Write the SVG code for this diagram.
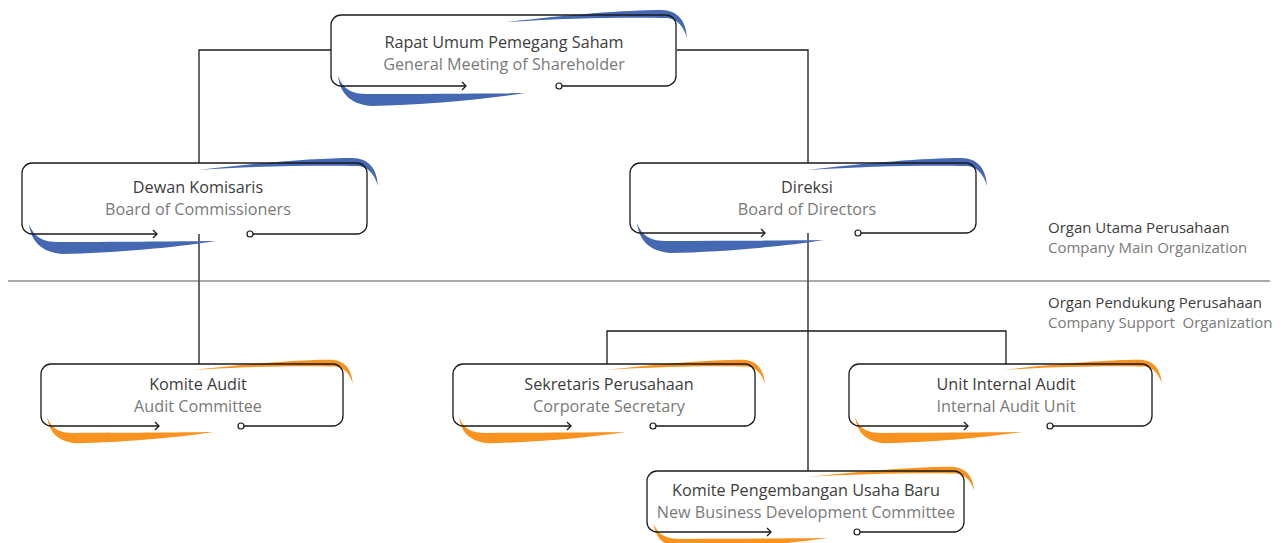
<svg xmlns="http://www.w3.org/2000/svg" xmlns:xlink="http://www.w3.org/1999/xlink" width="1284" height="543" viewBox="0 0 1284 543">
<style>
.bg{fill:#fff}
.blue{fill:#4468B2}
.orange{fill:#F7931E}
.box{fill:none;stroke:#1a1a1a;stroke-width:1.3}
.dot{fill:#fff;stroke:#1a1a1a;stroke-width:1.2}
.conn{fill:none;stroke:#1a1a1a;stroke-width:1.3}
.div{fill:none;stroke:#555;stroke-width:1}
.t1{font-family:"Open Sans","Noto Sans","Liberation Sans",sans-serif;font-size:16.2px;fill:#3d3d3d;text-anchor:middle}
.t2{font-family:"Open Sans","Noto Sans","Liberation Sans",sans-serif;font-size:16.2px;fill:#7a7a7a;text-anchor:middle}
.l1{font-family:"Open Sans","Noto Sans","Liberation Sans",sans-serif;font-size:15px;fill:#3d3d3d}
.l2{font-family:"Open Sans","Noto Sans","Liberation Sans",sans-serif;font-size:15px;fill:#7a7a7a}
</style>
<defs>
<path id="swT" d="M-169,7 C-110,0 -50,-5 -15,-5 C2,-5 10,6 11,23 C8,13 3,5 -8,3 C-50,2 -110,3 -169,7 Z"/>
<path id="swB" d="M7,-10 C9,6 18,18 40,20 C90,19 150,14 194,7 C150,7.5 90,8 36,8 C22,8 12,4 7,-10 Z"/>
</defs>
<rect class="bg" x="0" y="0" width="1284" height="543"/>

<g id="connectors">
<path class="conn" d="M331,50 H199 V163"/>
<path class="conn" d="M677,50 H808 V163"/>
<path class="conn" d="M199,234 V364"/>
<path class="conn" d="M808,233 V471"/>
<path class="conn" d="M607,364 V331 H1006 V364"/>
<path class="div" d="M8,281 H1270"/>
</g>

<g id="node-rups">
<use xlink:href="#swT" class="blue" transform="translate(676,15)"/>
<use xlink:href="#swB" class="blue" transform="translate(331,86)"/>
<path class="box" d="M466,86 H341 A10,10 0 0 1 331,76 V25 A10,10 0 0 1 341,15 H666 A10,10 0 0 1 676,25 V76 A10,10 0 0 1 666,86 H562"/>
<path class="conn" d="M462,82 L466,86 L462,90"/>
<circle class="dot" cx="559" cy="86" r="3"/>
<text class="t1" x="504" y="48">Rapat Umum Pemegang Saham</text>
<text class="t2" x="504" y="70">General Meeting of Shareholder</text>
</g>

<g id="node-dekom">
<use xlink:href="#swT" class="blue" transform="translate(367,163)"/>
<use xlink:href="#swB" class="blue" transform="translate(22,234)"/>
<path class="box" d="M157,234 H32 A10,10 0 0 1 22,224 V173 A10,10 0 0 1 32,163 H357 A10,10 0 0 1 367,173 V224 A10,10 0 0 1 357,234 H253"/>
<path class="conn" d="M153,230 L157,234 L153,238"/>
<circle class="dot" cx="250" cy="234" r="3"/>
<text class="t1" x="198" y="193">Dewan Komisaris</text>
<text class="t2" x="198" y="215">Board of Commissioners</text>
</g>

<g id="node-direksi">
<use xlink:href="#swT" class="blue" transform="translate(976,163)"/>
<use xlink:href="#swB" class="blue" transform="translate(630,233)"/>
<path class="box" d="M765,233 H640 A10,10 0 0 1 630,223 V173 A10,10 0 0 1 640,163 H966 A10,10 0 0 1 976,173 V223 A10,10 0 0 1 966,233 H861"/>
<path class="conn" d="M761,229 L765,233 L761,237"/>
<circle class="dot" cx="858" cy="233" r="3"/>
<text class="t1" x="807" y="193">Direksi</text>
<text class="t2" x="807" y="215">Board of Directors</text>
</g>

<g id="node-komite-audit">
<use xlink:href="#swT" class="orange" transform="translate(343,364) scale(0.89,0.86)"/>
<use xlink:href="#swB" class="orange" transform="translate(41,426) scale(0.89,0.86)"/>
<path class="box" d="M159,426 H51 A10,10 0 0 1 41,416 V374 A10,10 0 0 1 51,364 H333 A10,10 0 0 1 343,374 V416 A10,10 0 0 1 333,426 H244"/>
<path class="conn" d="M155,422 L159,426 L155,430"/>
<circle class="dot" cx="241" cy="426" r="3"/>
<text class="t1" x="198" y="390">Komite Audit</text>
<text class="t2" x="198" y="412">Audit Committee</text>
</g>

<g id="node-sekper">
<use xlink:href="#swT" class="orange" transform="translate(755,364) scale(0.89,0.86)"/>
<use xlink:href="#swB" class="orange" transform="translate(453,426) scale(0.89,0.86)"/>
<path class="box" d="M571,426 H463 A10,10 0 0 1 453,416 V374 A10,10 0 0 1 463,364 H745 A10,10 0 0 1 755,374 V416 A10,10 0 0 1 745,426 H656"/>
<path class="conn" d="M567,422 L571,426 L567,430"/>
<circle class="dot" cx="653" cy="426" r="3"/>
<text class="t1" x="609" y="390">Sekretaris Perusahaan</text>
<text class="t2" x="609" y="412">Corporate Secretary</text>
</g>

<g id="node-sia">
<use xlink:href="#swT" class="orange" transform="translate(1152,364) scale(0.89,0.86)"/>
<use xlink:href="#swB" class="orange" transform="translate(849,426) scale(0.89,0.86)"/>
<path class="box" d="M968,426 H859 A10,10 0 0 1 849,416 V374 A10,10 0 0 1 859,364 H1142 A10,10 0 0 1 1152,374 V416 A10,10 0 0 1 1142,426 H1053"/>
<path class="conn" d="M964,422 L968,426 L964,430"/>
<circle class="dot" cx="1050" cy="426" r="3"/>
<text class="t1" x="1006" y="390">Unit Internal Audit</text>
<text class="t2" x="1006" y="412">Internal Audit Unit</text>
</g>

<g id="node-kpub">
<use xlink:href="#swT" class="orange" transform="translate(964,471) scale(0.93,0.86)"/>
<use xlink:href="#swB" class="orange" transform="translate(647,532) scale(0.93,0.86)"/>
<path class="box" d="M771,532 H657 A10,10 0 0 1 647,522 V481 A10,10 0 0 1 657,471 H954 A10,10 0 0 1 964,481 V522 A10,10 0 0 1 954,532 H860"/>
<path class="conn" d="M767,528 L771,532 L767,536"/>
<circle class="dot" cx="857" cy="532" r="3"/>
<text class="t1" x="806" y="496">Komite Pengembangan Usaha Baru</text>
<text class="t2" x="806" y="518">New Business Development Committee</text>
</g>

<g id="labels">
<text class="l1" x="1048" y="233">Organ Utama Perusahaan</text>
<text class="l2" x="1048" y="253">Company Main Organization</text>
<text class="l1" x="1048" y="308">Organ Pendukung Perusahaan</text>
<text class="l2" x="1048" y="328" xml:space="preserve">Company Support  Organization</text>
</g>
</svg>
